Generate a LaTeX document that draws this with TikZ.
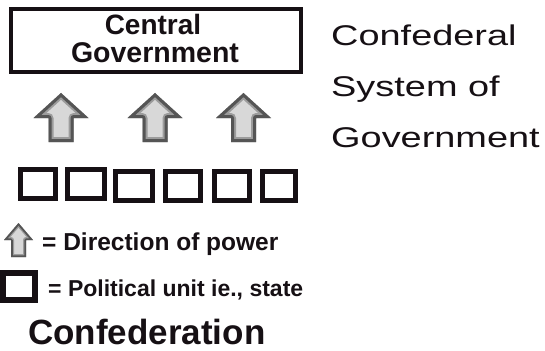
\documentclass[tikz,border=0pt]{standalone}
\usepackage{fontspec}
\setmainfont{Liberation Sans}
\newfontfamily\widefont[FakeStretch=1.33]{Liberation Sans}
\definecolor{ink}{HTML}{161014}
\definecolor{arrdark}{HTML}{555555}
\definecolor{arrmid}{HTML}{9C9C9C}
\definecolor{arrlight}{HTML}{D8D8D8}
\newcommand\powerarrow[8]{% apex x, apex y, head half, shaft half, head height, total height, outer lw, inner lw
  \begin{scope}[shift={(#1,#2)}]
    \def\arrpath{(0,0) -- (#3,#5) -- (#4,#5) -- (#4,#6) -- (-#4,#6) -- (-#4,#5) -- (-#3,#5) -- cycle}
    \begin{scope}
      \clip \arrpath;
      \fill[arrlight] \arrpath;
      \draw[arrmid, line width=#7, line join=round] \arrpath;
      \draw[arrdark, line width=#8, line join=round] \arrpath;
    \end{scope}
  \end{scope}}
\begin{document}
\begin{tikzpicture}[x=1pt, y=-1pt,
  unitbox/.style={draw=ink, line width=5pt, inner sep=0pt, minimum width=35pt, minimum height=29pt},
  boldtext/.style={inner sep=0pt, anchor=base west, text=ink, font=\bfseries},
  titletext/.style={inner sep=0pt, anchor=base west, text=ink, font=\widefont\fontsize{28.5}{39}\selectfont}]
  \useasboundingbox[fill=white] (0,0) rectangle (545,350);

  % central government box
  \node[draw=ink, line width=4pt, inner sep=0pt, minimum width=290pt, minimum height=63pt] (cg) at (156,40.5) {};
  \node[inner sep=0pt, anchor=base, text=ink, font=\bfseries\fontsize{28}{28}\selectfont] (cgl1) at (153,35) {Central};
  \node[inner sep=0pt, anchor=base, text=ink, font=\bfseries\fontsize{28.5}{28}\selectfont] (cgl2) at (155,63) {Government};

  % arrows
  \powerarrow{61}{93}{27.5}{12.5}{25}{49}{10}{6}
  \powerarrow{155}{93}{27.5}{12.5}{25}{49}{10}{6}
  \powerarrow{243.5}{93}{27.5}{12.5}{25}{49}{10}{6}

  % political units
  \node[unitbox] (u1) at (38,184) {};
  \node[unitbox, minimum width=37pt] (u2) at (86,184) {};
  \node[unitbox, minimum width=37pt] (u3) at (134.2,185.5) {};
  \node[unitbox] (u4) at (183.3,185.5) {};
  \node[unitbox] (u5) at (231.7,185.5) {};
  \node[unitbox, minimum width=33pt] (u6) at (279.2,185.5) {};

  % legend
  \powerarrow{18.5}{223}{14.5}{7.5}{17}{34}{6}{3.5}
  \node[boldtext, font=\bfseries\fontsize{24.5}{26}\selectfont] (leg1) at (42,250) {= Direction of power};
  \node[draw=ink, line width=6pt, inner sep=0pt, minimum width=32pt, minimum height=27pt] (legbox) at (19,286.5) {};
  \node[boldtext, font=\bfseries\fontsize{23}{26}\selectfont] (leg2) at (48,296) {= Political unit ie., state};
  \node[boldtext, font=\bfseries\fontsize{35}{36}\selectfont] (conf) at (28,344) {Confederation};

  % title
  \node[titletext] (t1) at (331,46) {Confederal};
  \node[titletext] (t2) at (331,96.5) {System of};
  \node[titletext] (t3) at (331,147) {Government};
\end{tikzpicture}
\end{document}
